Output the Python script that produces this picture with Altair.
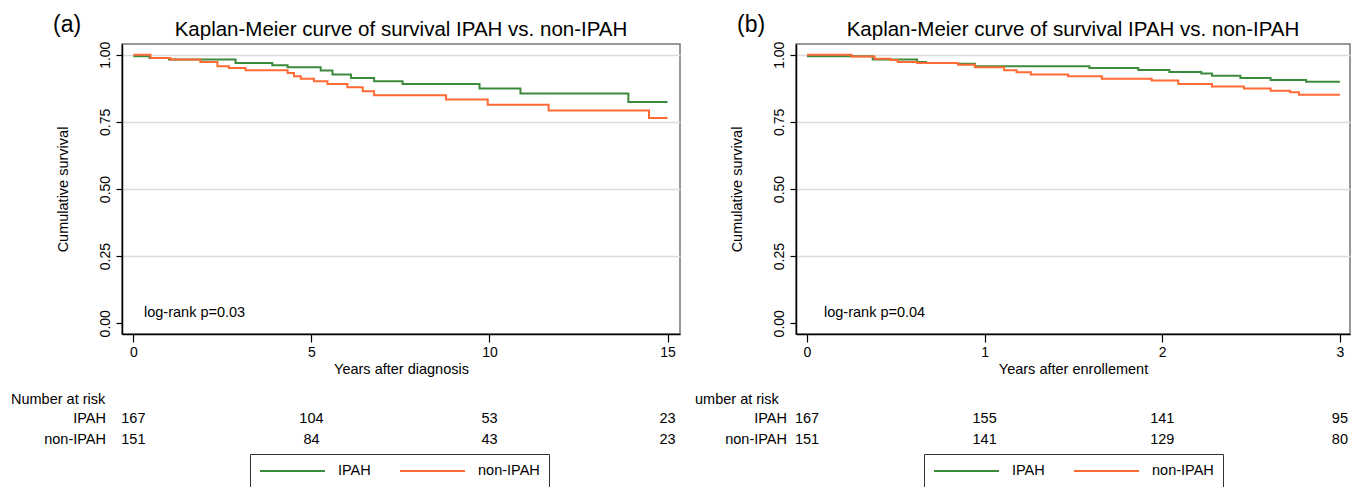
import altair as alt
import pandas as pd

# ---------------- data ----------------
# Panel (a): years after diagnosis
a_ipah_time = [0, 0.45, 1.0, 2.87, 3.9, 4.33, 5.26, 5.59, 6.11, 6.76, 7.56, 9.72, 10.87, 13.9, 15.0]
a_ipah_surv = [0.994, 0.988, 0.982, 0.969, 0.961, 0.953, 0.941, 0.926, 0.913, 0.901, 0.891, 0.874, 0.856, 0.824, 0.824]
a_non_time = [0, 0.48, 1.04, 1.88, 2.36, 2.68, 3.15, 4.33, 4.51, 4.70, 5.07, 5.45, 6.01, 6.44, 6.76, 8.78, 9.95, 11.66, 14.48, 15.0]
a_non_surv = [1.0, 0.988, 0.982, 0.973, 0.957, 0.951, 0.942, 0.932, 0.920, 0.911, 0.901, 0.891, 0.879, 0.864, 0.849, 0.833, 0.814, 0.792, 0.764, 0.764]
a_risk_time = [0, 5, 10, 15]
a_risk_ipah = [167, 104, 53, 23]
a_risk_non = [151, 84, 43, 23]

# Panel (b): years after enrollement
b_ipah_time = [0, 0.37, 0.62, 0.67, 0.85, 0.945, 1.59, 1.865, 2.04, 2.22, 2.28, 2.44, 2.61, 2.81, 3.0]
b_ipah_surv = [0.994, 0.982, 0.973, 0.969, 0.966, 0.957, 0.951, 0.943, 0.936, 0.930, 0.922, 0.913, 0.906, 0.899, 0.899]
b_non_time = [0, 0.25, 0.38, 0.47, 0.51, 0.62, 0.85, 0.945, 1.11, 1.18, 1.26, 1.47, 1.66, 1.94, 2.09, 2.28, 2.46, 2.61, 2.72, 2.77, 3.0]
b_non_surv = [1.0, 0.993, 0.985, 0.98, 0.973, 0.969, 0.963, 0.953, 0.942, 0.935, 0.926, 0.92, 0.911, 0.904, 0.891, 0.882, 0.874, 0.866, 0.860, 0.851, 0.851]
b_risk_time = [0, 1, 2, 3]
b_risk_ipah = [167, 155, 141, 95]
b_risk_non = [151, 141, 129, 80]

groups = ["IPAH", "non-IPAH"]
y_ticks = [0, 0.25, 0.5, 0.75, 1.0]

GREEN = "#3c8a3c"
ORANGE = "#ff6a35"
FONT = "Liberation Sans"
H = 290


def label(text, x, y, size=14.5, align="left"):
    return alt.Chart(pd.DataFrame({"t": [text]})).mark_text(
        align=align, baseline="alphabetic", fontSize=size, font=FONT, color="black"
    ).encode(text="t:N", x=alt.value(x), y=alt.value(y))


def panel(tag, xtitle, xdom, xticks, width, it, isv, nt, nsv, rt, ri, rn,
          pval, risk_label, risk_x, row_x, tag_x, logrank_x):
    curves = pd.DataFrame({
        "time": it + nt,
        "surv": isv + nsv,
        "group": [groups[0]] * len(it) + [groups[1]] * len(nt),
    })
    xenc = alt.X(
        "time:Q",
        scale=alt.Scale(domain=xdom, nice=False, zero=False),
        axis=alt.Axis(values=xticks, format="d", title=xtitle, grid=False, labelAngle=0,
                      tickSize=8, labelPadding=3, titlePadding=3, labelFontSize=14,
                      titleFontSize=14.5, domainColor="black", tickColor="black",
                      domainWidth=1.5, tickWidth=1.2),
    )
    yenc = alt.Y(
        "surv:Q",
        scale=alt.Scale(domain=[-0.04, 1.04], nice=False, zero=False),
        axis=alt.Axis(values=y_ticks, format=".2f", title="Cumulative survival",
                      labelAngle=270, labelAlign="center", labelBaseline="bottom",
                      tickSize=6, labelPadding=4, titlePadding=28, labelFontSize=14,
                      titleFontSize=14.5, grid=True, gridColor="#dcdcdc", gridWidth=1.5,
                      gridOpacity={"condition": {"test": "datum.value === 0", "value": 0}, "value": 1},
                      domainColor="black", tickColor="black", domainWidth=1.5, tickWidth=1.2),
    )
    lines = alt.Chart(curves).mark_line(interpolate="step-after", strokeWidth=2).encode(
        x=xenc,
        y=yenc,
        color=alt.Color(
            "group:N",
            scale=alt.Scale(domain=groups, range=[GREEN, ORANGE]),
            legend=alt.Legend(orient="none", legendX=128, legendY=410, direction="horizontal",
                              title=None, symbolType="stroke", symbolSize=4225,
                              symbolStrokeWidth=2, clipHeight=16, labelFontSize=14.5,
                              labelFont=FONT, labelColor="black", labelOffset=12,
                              columnPadding=28, padding=9, strokeColor="#333",
                              fillColor="white"),
        ),
    )
    r_ipah = alt.Chart(pd.DataFrame({"time": rt, "n": ri})).mark_text(
        fontSize=14.5, baseline="alphabetic", font=FONT, color="black"
    ).encode(x=xenc, text="n:Q", y=alt.value(379))
    r_non = alt.Chart(pd.DataFrame({"time": rt, "n": rn})).mark_text(
        fontSize=14.5, baseline="alphabetic", font=FONT, color="black"
    ).encode(x=xenc, text="n:Q", y=alt.value(400))

    layers = [
        lines, r_ipah, r_non,
        label(risk_label, risk_x, 360),
        label(groups[0], row_x, 379, align="right"),
        label(groups[1], row_x, 400, align="right"),
        label(tag, tag_x, -12, size=23),
        label("Kaplan-Meier curve of survival IPAH vs. non-IPAH", width / 2, -8, size=20.5, align="center"),
        label(pval, logrank_x, 273),
    ]
    return alt.layer(*layers).properties(width=width, height=H)


a = panel("(a)", "Years after diagnosis", [-0.32, 15.35], a_risk_time, 558,
          a_ipah_time, a_ipah_surv, a_non_time, a_non_surv,
          a_risk_time, a_risk_ipah, a_risk_non,
          "log-rank p=0.03", "Number at risk", -111, -16, -69, 22)
b = panel("(b)", "Years after enrollement", [-0.062, 3.057], b_risk_time, 554,
          b_ipah_time, b_ipah_surv, b_non_time, b_non_surv,
          b_risk_time, b_risk_ipah, b_risk_non,
          "log-rank p=0.04", "umber at risk", -101, -9, -59, 28)

chart = alt.hconcat(a, b, spacing=116, bounds="flush").resolve_legend(
    color="independent"
).configure(
    padding={"left": 2, "top": 5, "right": 0, "bottom": 0},
    font=FONT,
).configure_view(
    stroke="#777", strokeWidth=1.5
).configure_axis(
    labelFont=FONT, titleFont=FONT, titleFontWeight="normal",
    labelColor="black", titleColor="black",
)

chart.save("out.html", embed_options={"renderer": "svg", "actions": False})
